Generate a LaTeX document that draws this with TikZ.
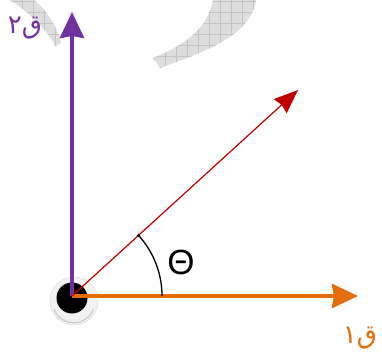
\documentclass[tikz,border=0pt]{standalone}
\usepackage{fontspec}
\setmainfont{Liberation Sans}
\newfontfamily\arabicfont[Script=Arabic]{DejaVu Sans}
\TeXXeTstate=1
\usetikzlibrary{arrows.meta}
\definecolor{purple}{HTML}{7030A0}
\definecolor{orange}{HTML}{E46C0A}
\definecolor{darkred}{HTML}{C00000}
\definecolor{shadegray}{HTML}{DEDEDE}
\definecolor{gridgray}{HTML}{C4C4C4}

\begin{document}
\begin{tikzpicture}[x=1pt,y=1pt,
  axis/.style={line width=4pt,-{Stealth[length=26pt,width=24pt,inset=2pt]}},
  ray/.style={draw=darkred,line width=1.2pt,-{Stealth[length=24pt,width=19pt,inset=2pt]}},
  label/.style={font=\arabicfont\fontsize{26}{26}\selectfont,inner sep=0pt}]
  \useasboundingbox (0,0) rectangle (382,353);
  \begin{scope}
    \clip (10,353) .. controls (30,340) and (48,322) .. (55,307) -- (61,310) .. controls (58,325) and (45,345) .. (34,353) -- cycle
          (213,353) .. controls (208,325) and (185,308) .. (153,295) -- (160,285) .. controls (200,300) and (250,315) .. (256,353) -- cycle;
    \fill[shadegray] (0,280) rectangle (382,353);
    \draw[gridgray,line width=0.6pt,step=11] (0,276) grid (382,353);
  \end{scope}
  \coordinate (O) at (72,57);
  \coordinate (q1tip) at (358,57);
  \coordinate (q2tip) at (72,341);
  \coordinate (rtip) at (298,263);
  \coordinate (arcstart) at (162,57);
  \fill[gray!10,draw=gray!30] (74,52) circle (24);
  \draw[gray!45,line width=1pt] (54,44) arc[start angle=200,end angle=340,radius=21];
  \fill[black] (72,55) circle (15.5);
  \draw[axis,draw=purple,fill=purple] (O) -- (q2tip);
  \draw[axis,draw=orange,fill=orange] (O) -- (q1tip);
  \draw[ray,fill=darkred] (O) -- (rtip);
  \draw[line width=1.3pt] (arcstart) arc[start angle=0,end angle=42.3,radius=90] coordinate (arcend);
  \fill (arcend) circle (1.7);
  \node[font=\fontsize{35}{35}\selectfont] (theta) at (181,91) {Θ};
  \node[label,text=purple] (q2) at (25,325) {\beginR ق٢\endR};
  \node[label,text=orange] (q1) at (360,15) {\beginR ق١\endR};
\end{tikzpicture}
\end{document}
